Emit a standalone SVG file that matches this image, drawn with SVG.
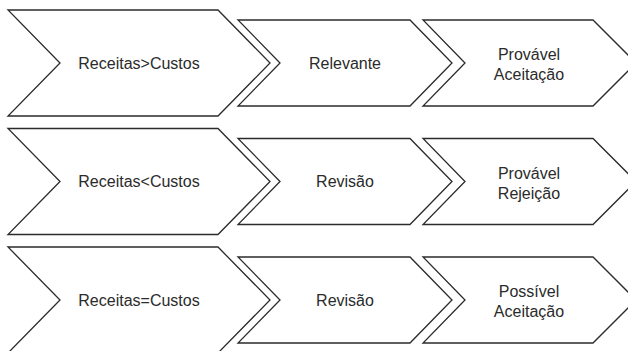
<svg xmlns="http://www.w3.org/2000/svg" width="628" height="351" viewBox="0 0 628 351">
<style>
.c{fill:#fff;stroke:#2b2b2b;stroke-width:1.3;stroke-linejoin:miter}
.t{font-family:"Liberation Sans",Arial,sans-serif;font-size:16px;fill:#2b2b2b;text-anchor:middle}
</style>
<defs>
<path id="big" d="M8,-53 L218,-53 L270,0 L218,53 L8,53 L60,0 Z"/>
<path id="mid" d="M238,-43 L410,-43 L452,0 L410,43 L238,43 L280,0 Z"/>
<path id="end" d="M423,-43 L593,-43 L636,0 L593,43 L423,43 L465,0 Z"/>
</defs>
<rect width="628" height="351" fill="#fff"/>
<g id="connectors"/>
<g id="r1a" transform="translate(0,63)"><use href="#big" class="c"/><text class="t" x="139" y="5.5">Receitas&gt;Custos</text></g>
<g id="r1b" transform="translate(0,63)"><use href="#mid" class="c"/><text class="t" x="345" y="5.5">Relevante</text></g>
<g id="r1c" transform="translate(0,63)"><use href="#end" class="c"/><text class="t" x="529" y="-3">Provável</text><text class="t" x="529" y="17">Aceitação</text></g>
<g id="r2a" transform="translate(0,181.5)"><use href="#big" class="c"/><text class="t" x="139" y="5.5">Receitas&lt;Custos</text></g>
<g id="r2b" transform="translate(0,181.5)"><use href="#mid" class="c"/><text class="t" x="345" y="5.5">Revisão</text></g>
<g id="r2c" transform="translate(0,181.5)"><use href="#end" class="c"/><text class="t" x="529" y="-3">Provável</text><text class="t" x="529" y="17">Rejeição</text></g>
<g id="r3a" transform="translate(0,300)"><use href="#big" class="c"/><text class="t" x="139" y="5.5">Receitas=Custos</text></g>
<g id="r3b" transform="translate(0,300)"><use href="#mid" class="c"/><text class="t" x="345" y="5.5">Revisão</text></g>
<g id="r3c" transform="translate(0,300)"><use href="#end" class="c"/><text class="t" x="529" y="-3">Possível</text><text class="t" x="529" y="17">Aceitação</text></g>
</svg>
